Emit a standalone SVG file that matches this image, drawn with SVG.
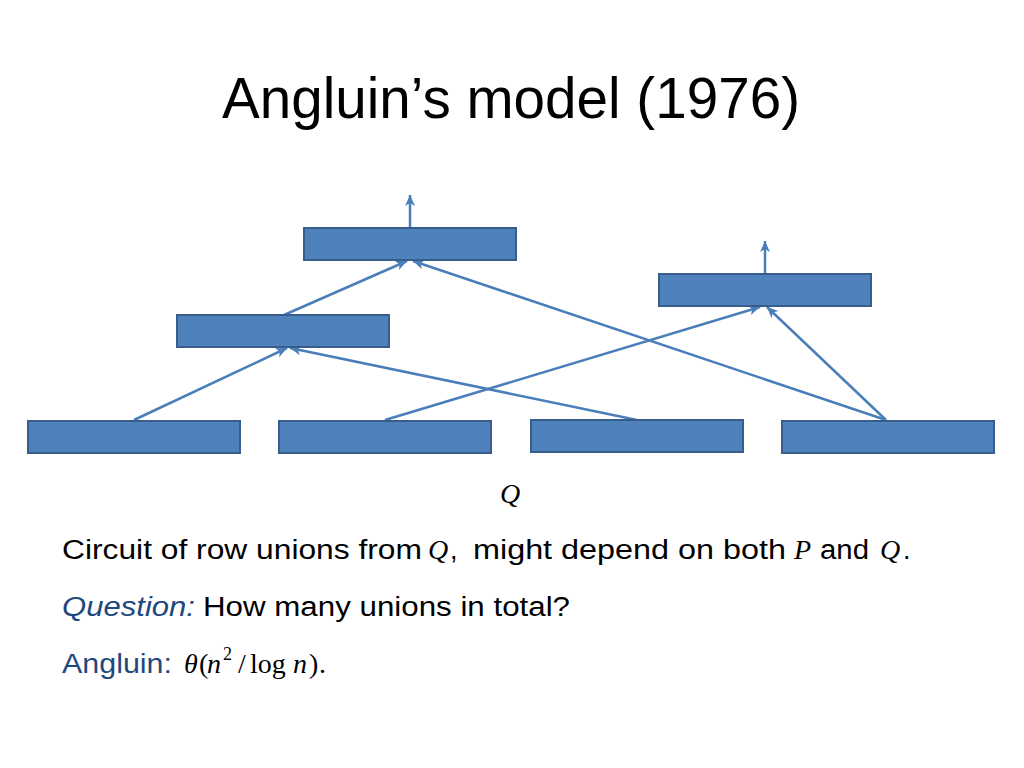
<svg xmlns="http://www.w3.org/2000/svg" width="1024" height="768" viewBox="0 0 1024 768">
<defs>
<style>
.box{fill:#4f81bd;stroke:#385d8a;stroke-width:2}
.edge{stroke:#4a7ebb;stroke-width:2.5;fill:none;marker-end:url(#arr)}
.t{font-family:"Liberation Sans",Arial,sans-serif;font-size:27px;fill:#000}
.m{font-family:"Liberation Serif","Times New Roman",serif;font-style:italic;font-size:28px;fill:#000}
.mr{font-family:"Liberation Serif","Times New Roman",serif;font-size:28px;fill:#000}
.sup{font-family:"Liberation Serif","Times New Roman",serif;font-size:18px;fill:#000}
.blue{fill:#1f497d}
</style>
<marker id="arr" markerWidth="12" markerHeight="12" viewBox="0 0 12 12" refX="11" refY="6" orient="auto" markerUnits="userSpaceOnUse">
<path d="M0,1 L11,6 L0,11 L3,6 Z" fill="#4a7ebb"/>
</marker>
</defs>
<rect width="1024" height="768" fill="#fff"/>
<text x="222" y="118" font-family="'Liberation Sans',Arial,sans-serif" font-size="58" textLength="578" lengthAdjust="spacingAndGlyphs">Angluin’s model (1976)</text>
<g id="connectors">
<line class="edge" x1="410" y1="228" x2="410" y2="195"/>
<line class="edge" x1="765" y1="274" x2="765" y2="241"/>
<line class="edge" x1="134" y1="420" x2="287" y2="348"/>
<line class="edge" x1="637" y1="420" x2="290" y2="348"/>
<line class="edge" x1="284" y1="315" x2="407" y2="261"/>
<line class="edge" x1="886" y1="420" x2="413" y2="261"/>
<line class="edge" x1="385" y1="420" x2="760" y2="307"/>
<line class="edge" x1="886" y1="420" x2="767" y2="307"/>
</g>
<g id="nodeA"><rect class="box" x="304" y="228" width="212" height="32"/></g>
<g id="nodeB"><rect class="box" x="177" y="315" width="212" height="32"/></g>
<g id="nodeC"><rect class="box" x="659" y="274" width="212" height="32"/></g>
<g id="q1"><rect class="box" x="28" y="421" width="212" height="32"/></g>
<g id="q2"><rect class="box" x="279" y="421" width="212" height="32"/></g>
<g id="q3"><rect class="box" x="531" y="420" width="212" height="32"/></g>
<g id="q4"><rect class="box" x="782" y="421" width="212" height="32"/></g>
<text class="m" x="500" y="503">Q</text>
<text class="t" x="62" y="559" textLength="360" lengthAdjust="spacingAndGlyphs">Circuit of row unions from</text>
<text class="m" x="428" y="559">Q</text>
<text class="t" x="450" y="559">,</text>
<text class="t" x="473" y="559" textLength="313" lengthAdjust="spacingAndGlyphs">might depend on both</text>
<text class="m" x="794" y="559">P</text>
<text class="t" x="820" y="559" textLength="49" lengthAdjust="spacingAndGlyphs">and</text>
<text class="m" x="880" y="559">Q</text>
<text class="t" x="903" y="559">.</text>
<text class="t blue" x="62" y="616" font-style="italic" textLength="133" lengthAdjust="spacingAndGlyphs">Question:</text>
<text class="t" x="203" y="616" textLength="367" lengthAdjust="spacingAndGlyphs">How many unions in total?</text>
<text class="t blue" x="62" y="673" textLength="110" lengthAdjust="spacingAndGlyphs">Angluin:</text>
<text class="m" x="184" y="673">θ</text>
<text class="mr" x="199" y="673">(</text>
<text class="m" x="207" y="673">n</text>
<text class="sup" x="223" y="660">2</text>
<text class="mr" x="238" y="673">/</text>
<text class="mr" x="250" y="673">log</text>
<text class="m" x="293" y="673">n</text>
<text class="mr" x="309" y="673">)</text>
<text class="mr" x="319" y="673">.</text>
</svg>
